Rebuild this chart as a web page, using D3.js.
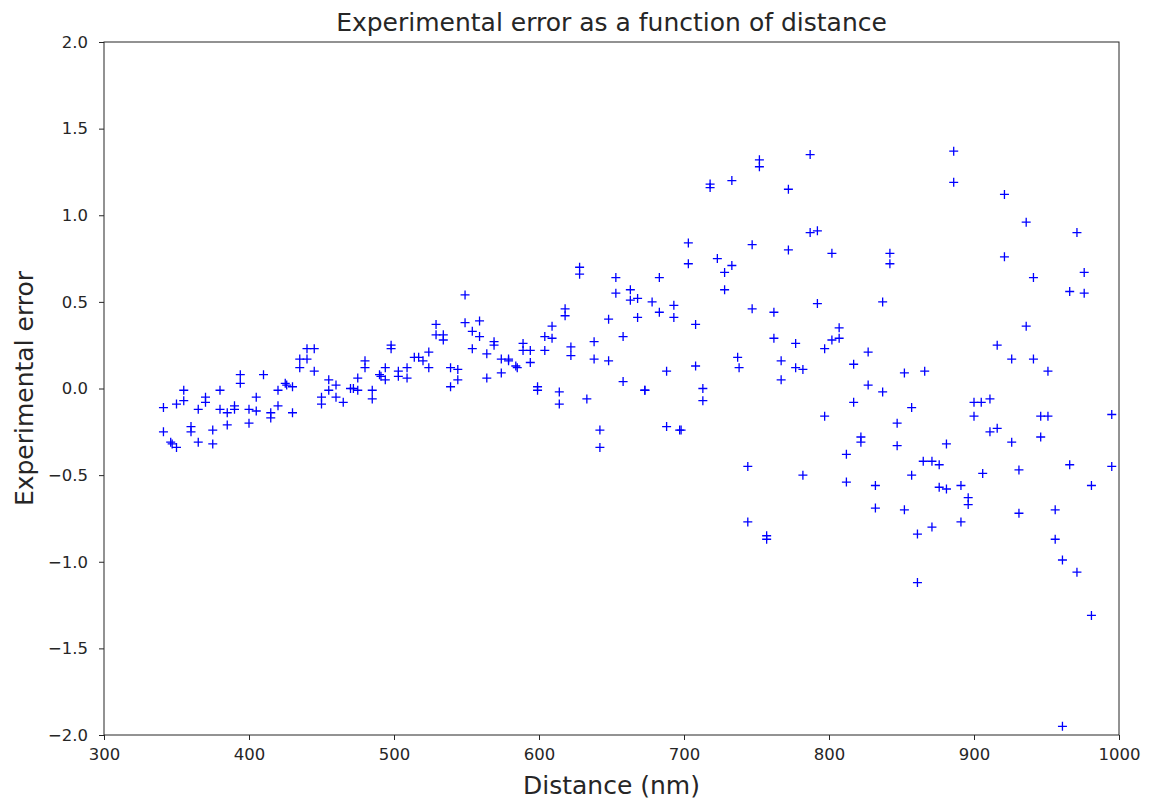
<!DOCTYPE html>
<html>
<head>
<meta charset="utf-8">
<script src="https://cdn.jsdelivr.net/npm/d3@7"></script>
<style>
  body { margin: 0; background: #fff; }
  text { font-family: "DejaVu Sans", sans-serif; }
</style>
</head>
<body>
<div id="chart"></div>
<script>
// Distance (nm) of each measurement
const distances = [
  341, 341, 346, 347, 350, 350, 355, 355, 360, 360, 365, 365, 370, 370, 375, 375,
  380, 380, 385, 385, 390, 390, 394, 394, 400, 400, 405, 405, 410, 415, 415, 420,
  420, 425, 426, 430, 430, 435, 435, 440, 445, 440, 445, 450, 450, 455, 455, 460,
  460, 465, 470, 472, 475, 475, 480, 480, 485, 485, 490, 491, 494, 494, 498, 498,
  503, 503, 509, 509, 514, 517, 520, 524, 524, 529, 529, 534, 534, 539, 539, 544,
  544, 549, 549, 554, 554, 559, 559, 564, 564, 569, 569, 574, 574, 579, 579, 584,
  585, 589, 589, 594, 594, 599, 599, 604, 604, 609, 609, 614, 614, 618, 618, 622,
  622, 628, 628, 633, 638, 638, 642, 642, 648, 648, 653, 653, 658, 658, 663, 663,
  668, 668, 673, 673, 678, 683, 683, 688, 688, 693, 693, 697, 698, 703, 703, 708,
  708, 713, 713, 718, 718, 733, 723, 733, 728, 728, 737, 738, 747, 747, 752, 752,
  762, 762, 767, 767, 772, 772, 777, 777, 782, 787, 787, 792, 792, 797, 802, 802,
  744, 744, 757, 757, 782, 797, 886, 886, 842, 842, 837, 807, 807, 827, 817, 852,
  866, 827, 837, 817, 857, 847, 900, 900, 822, 822, 847, 812, 881, 865, 871, 876,
  857, 812, 832, 876, 881, 891, 896, 896, 832, 852, 891, 871, 861, 861, 921, 936,
  971, 921, 941, 976, 966, 976, 936, 916, 926, 941, 951, 911, 905, 946, 951, 995,
  911, 916, 926, 946, 906, 931, 966, 995, 981, 931, 956, 956, 961, 971, 981, 961
];

// Experimental error, same order as distances
const errors = [
  -0.11, -0.25, -0.31, -0.32, -0.34, -0.09, -0.01, -0.07, -0.22, -0.25, -0.12, -0.31, -0.05, -0.08, -0.24, -0.32,
  -0.01, -0.12, -0.14, -0.21, -0.10, -0.12, 0.08, 0.03, -0.12, -0.20, -0.05, -0.13, 0.08, -0.14, -0.17, -0.01,
  -0.10, 0.03, 0.02, 0.01, -0.14, 0.17, 0.12, 0.23, 0.23, 0.17, 0.10, -0.05, -0.09, 0.05, -0.01, 0.02,
  -0.05, -0.08, 0.00, 0.00, 0.06, -0.01, 0.16, 0.12, -0.01, -0.06, 0.08, 0.07, 0.12, 0.05, 0.25, 0.23,
  0.10, 0.07, 0.12, 0.06, 0.18, 0.18, 0.16, 0.21, 0.12, 0.37, 0.31, 0.31, 0.28, 0.12, 0.01, 0.11,
  0.05, 0.54, 0.38, 0.33, 0.23, 0.39, 0.30, 0.20, 0.06, 0.27, 0.25, 0.17, 0.09, 0.17, 0.16, 0.13,
  0.12, 0.26, 0.22, 0.22, 0.15, 0.01, -0.01, 0.30, 0.22, 0.36, 0.29, -0.02, -0.09, 0.46, 0.42, 0.24,
  0.19, 0.70, 0.66, -0.06, 0.27, 0.17, -0.24, -0.34, 0.16, 0.40, 0.64, 0.55, 0.30, 0.04, 0.57, 0.51,
  0.52, 0.41, -0.01, -0.01, 0.50, 0.64, 0.44, 0.10, -0.22, 0.48, 0.41, -0.24, -0.24, 0.84, 0.72, 0.37,
  0.13, 0.00, -0.07, 1.18, 1.16, 1.20, 0.75, 0.71, 0.67, 0.57, 0.18, 0.12, 0.83, 0.46, 1.32, 1.28,
  0.44, 0.29, 0.16, 0.05, 1.15, 0.80, 0.26, 0.12, 0.11, 1.35, 0.90, 0.91, 0.49, 0.23, 0.78, 0.28,
  -0.45, -0.77, -0.85, -0.87, -0.50, -0.16, 1.37, 1.19, 0.78, 0.72, 0.50, 0.35, 0.29, 0.21, 0.14, 0.09,
  0.10, 0.02, -0.02, -0.08, -0.11, -0.20, -0.08, -0.16, -0.28, -0.31, -0.33, -0.38, -0.32, -0.42, -0.42, -0.44,
  -0.50, -0.54, -0.56, -0.57, -0.58, -0.56, -0.63, -0.67, -0.69, -0.70, -0.77, -0.80, -0.84, -1.12, 1.12, 0.96,
  0.90, 0.76, 0.64, 0.67, 0.56, 0.55, 0.36, 0.25, 0.17, 0.17, 0.10, -0.06, -0.08, -0.16, -0.16, -0.15,
  -0.25, -0.23, -0.31, -0.28, -0.49, -0.47, -0.44, -0.45, -0.56, -0.72, -0.70, -0.87, -0.99, -1.06, -1.31, -1.95
];

const xTicks = [300, 400, 500, 600, 700, 800, 900, 1000];
const yTicks = [-2.0, -1.5, -1.0, -0.5, 0.0, 0.5, 1.0, 1.5, 2.0];

const W = 1149, H = 801;
const margin = { top: 42, right: 30, bottom: 66, left: 104 };
const width = W - margin.left - margin.right;
const height = H - margin.top - margin.bottom;

const svg = d3.select('#chart').append('svg')
  .attr('width', W)
  .attr('height', H);

const g = svg.append('g')
  .attr('transform', `translate(${margin.left},${margin.top})`);

const x = d3.scaleLinear().domain([300, 1000]).range([0, width]);
const y = d3.scaleLinear().domain([-2, 2]).range([height, 0]);

// Axes
const xAxis = d3.axisBottom(x).tickValues(xTicks).tickFormat(d3.format('d'))
  .tickSize(5).tickSizeOuter(0).tickPadding(8);
const yAxis = d3.axisLeft(y).tickValues(yTicks).tickFormat(d3.format('.1f'))
  .tickSize(5).tickSizeOuter(0).tickPadding(11);

g.append('g')
  .attr('transform', `translate(0,${height})`)
  .call(xAxis);
g.append('g').call(yAxis);

g.selectAll('.tick text')
  .attr('font-size', 16.5)
  .attr('font-family', '"DejaVu Sans", sans-serif')
  .attr('fill', '#262626');
g.selectAll('.tick line').attr('stroke', '#262626');
g.selectAll('.domain').remove();

// Frame around the plot
g.append('rect')
  .attr('width', width)
  .attr('height', height)
  .attr('fill', 'none')
  .attr('stroke', '#262626')
  .attr('stroke-width', 1);

// '+' markers
const arm = 4.5;
const pts = g.append('g').attr('stroke', '#0000ff').attr('stroke-width', 1.3);
distances.forEach((d, i) => {
  const px = x(d), py = y(errors[i]);
  pts.append('path')
    .attr('d', `M${px - arm},${py}H${px + arm}M${px},${py - arm}V${py + arm}`);
});

// Title and axis labels
svg.append('text')
  .attr('x', margin.left + width / 2)
  .attr('y', 31)
  .attr('text-anchor', 'middle')
  .attr('font-size', 25)
  .attr('fill', '#262626')
  .text('Experimental error as a function of distance');

svg.append('text')
  .attr('x', margin.left + width / 2)
  .attr('y', 794)
  .attr('text-anchor', 'middle')
  .attr('font-size', 25)
  .attr('fill', '#262626')
  .text('Distance (nm)');

svg.append('text')
  .attr('transform', `translate(33,${margin.top + height / 2}) rotate(-90)`)
  .attr('text-anchor', 'middle')
  .attr('font-size', 25)
  .attr('fill', '#262626')
  .text('Experimental error');
</script>
</body>
</html>
